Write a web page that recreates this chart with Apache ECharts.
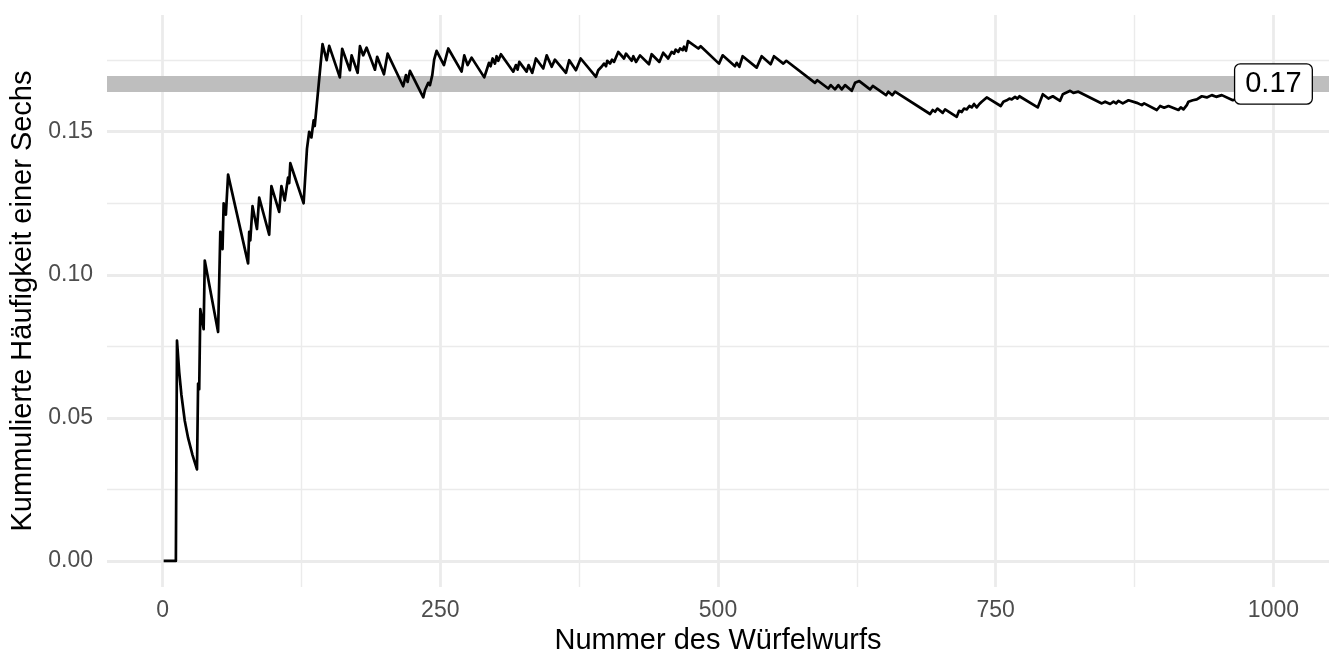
<!DOCTYPE html>
<html>
<head>
<meta charset="utf-8">
<script src="https://cdn.jsdelivr.net/npm/echarts@6/dist/echarts.min.js"></script>
<style>
  html, body { margin: 0; padding: 0; background: #fff; }
  #chart { width: 1344px; height: 672px; }
</style>
</head>
<body>
<div id="chart"></div>
<script>
// ---- data ----
const rollNumber = [
  1, 12, 13, 15, 17, 20, 23, 27, 31, 32, 33, 34, 37, 38, 50, 52, 54, 55, 57, 59,
  77, 78, 79, 81, 85, 87, 96, 98, 105, 107, 110, 113, 114, 115, 127, 130, 132, 134, 136, 137,
  144, 147.7, 150, 159.6, 161.7, 168.6, 170.2, 175.6, 177.7, 180.6, 183.7, 191.2, 193.2, 199.3, 202.6,
  216.6, 219.1, 220.6, 222.7, 234.7, 236.2, 237.7, 239.2, 240.7, 242.8, 244.5, 246.7, 253.3, 257.2,
  269.2, 271.6, 274.6, 278.2, 289.6, 291.7, 293.8, 295.3, 297.1, 299.2, 300.7, 302.2, 304.6,
  315.7, 318.1, 319.6, 321.1, 327.7, 329.5, 332.8, 336.1, 342.7, 345.8, 350.3, 353.2, 363.1, 366.1,
  372.1, 376.4, 390.1, 392.2, 393.7, 395.2, 397.4, 399.2, 400.3, 402.8, 404.6, 406.4, 410.2, 415.4,
  417.2, 422.3, 423.8, 426.2, 429.8, 437.9, 440.3, 447.2, 450.7, 455.2, 458.3, 460.4, 461.9, 464.3,
  465.8, 468.2, 469.4, 471.2, 473, 482.3, 484.4, 500.9, 504.2, 515.3, 516.8, 519.2, 522.2, 534.8,
  539.3, 547.4, 550.4, 558.8, 561.5, 587.3, 589.4, 599.3, 601.5, 605.3, 608.3, 611.4, 614.4, 620.4,
  623.4, 624.9, 627.2, 636.9, 639.3, 651.3, 653.3, 656.9, 659.4, 690.9, 693.3, 695.4, 697.5, 702.3,
  704.4, 714.9, 717, 719.4, 721.5, 723.9, 726.3, 728.4, 730.5, 732.9, 735.3, 737.4, 741.9, 754.5,
  756.9, 759.9, 762.3, 764.4, 767.4, 769.5, 771.3, 787.8, 792.4, 797.4, 801.4, 807.9, 810.4, 817,
  819.9, 824.4, 845.5, 848.5, 853, 856, 858.4, 860.4, 864.4, 869.5, 877, 881.5, 883.6, 895, 898,
  901.6, 905.5, 914.5, 916.6, 919, 922, 923.5, 927.4, 931, 935.5, 940, 944.5, 948.4, 953.5, 963.4,
  980, 1000
];
const cumulativeFrequency = [
  0, 0, 0.077, 0.066, 0.058, 0.049, 0.043, 0.037, 0.032, 0.062, 0.060, 0.088, 0.081, 0.105, 0.080, 0.115, 0.109, 0.125, 0.121, 0.135,
  0.104, 0.115, 0.112, 0.124, 0.116, 0.127, 0.114, 0.131, 0.122, 0.131, 0.126, 0.134, 0.132, 0.139, 0.125, 0.144, 0.150, 0.148, 0.154, 0.152,
  0.1806, 0.175, 0.180, 0.169, 0.179, 0.1715, 0.1767, 0.1706, 0.1799, 0.1767, 0.1794, 0.1717, 0.1762, 0.1701, 0.1773,
  0.1659, 0.1698, 0.1674, 0.1713, 0.1620, 0.1645, 0.1640, 0.1671, 0.1663, 0.1698, 0.1752, 0.1783, 0.1733, 0.1791,
  0.1710, 0.1767, 0.1733, 0.1759, 0.1690, 0.1715, 0.1741, 0.1729, 0.1756, 0.1738, 0.1764, 0.1748, 0.1771,
  0.1710, 0.1733, 0.1717, 0.1744, 0.1710, 0.1733, 0.1706, 0.1756, 0.1721, 0.1767, 0.1727, 0.1752, 0.1706, 0.1750,
  0.1715, 0.1756, 0.1692, 0.1715, 0.1721, 0.1727, 0.1738, 0.1729, 0.1748, 0.1738, 0.1752, 0.1744, 0.1779, 0.1756,
  0.1773, 0.1748, 0.1764, 0.1744, 0.1767, 0.1736, 0.1771, 0.1744, 0.1776, 0.1756, 0.1779, 0.1773, 0.1787, 0.1779,
  0.1791, 0.1785, 0.1797, 0.1783, 0.1817, 0.1791, 0.1799, 0.1738, 0.1767, 0.1729, 0.1741, 0.1727, 0.1764, 0.1724,
  0.1764, 0.1736, 0.1764, 0.1738, 0.1748, 0.1671, 0.1680, 0.1651, 0.1663, 0.1648, 0.1663, 0.1648, 0.1663, 0.1643,
  0.1671, 0.1666, 0.1677, 0.1648, 0.1660, 0.1628, 0.1640, 0.1628, 0.1640, 0.1562, 0.1576, 0.1570, 0.1581, 0.1566,
  0.1578, 0.1552, 0.1573, 0.1569, 0.1581, 0.1578, 0.1590, 0.1585, 0.1597, 0.1585, 0.1597, 0.1605, 0.1620, 0.1590,
  0.1605, 0.1610, 0.1616, 0.1613, 0.1622, 0.1616, 0.1624, 0.1585, 0.1631, 0.1616, 0.1624, 0.1608, 0.1631, 0.1643,
  0.1636, 0.1640, 0.1599, 0.1605, 0.1597, 0.1605, 0.1599, 0.1608, 0.1599, 0.1610, 0.1601, 0.1593, 0.1599, 0.1576, 0.1590,
  0.1584, 0.1590, 0.1576, 0.1585, 0.1578, 0.1593, 0.1605, 0.1610, 0.1613, 0.1624, 0.1620, 0.1628, 0.1622, 0.1628, 0.1610,
  0.1630, 0.1620
];
const referenceValue = [1 / 6];
const xTicks = [0, 250, 500, 750, 1000];
const xMinorTicks = [125, 375, 625, 875];
const yTicks = [0, 0.05, 0.10, 0.15];
const yMinorTicks = [0.025, 0.075, 0.125, 0.175];
const xTitle = 'Nummer des Würfelwurfs';
const yTitle = 'Kummulierte Häufigkeit einer Sechs';

// ---- chart ----
const FONT = '"Liberation Sans", Arial, Helvetica, sans-serif';
const chart = echarts.init(document.getElementById('chart'), null, { renderer: 'canvas' });

const lineData = rollNumber.map((x, i) => [x, cumulativeFrequency[i]]);
const GRID_COLOR = '#EBEBEB';
const gridLines = [].concat(
  xMinorTicks.map(v => ({ xAxis: v, lineStyle: { width: 1.4, color: GRID_COLOR, type: 'solid' } })),
  yMinorTicks.map(v => ({ yAxis: v, lineStyle: { width: 1.4, color: GRID_COLOR, type: 'solid' } })),
  xTicks.map(v => ({ xAxis: v, lineStyle: { width: 2.8, color: GRID_COLOR, type: 'solid' } })),
  yTicks.map(v => ({ yAxis: v, lineStyle: { width: 2.8, color: GRID_COLOR, type: 'solid' } }))
);

chart.setOption({
  animation: false,
  backgroundColor: '#ffffff',
  grid: { left: 107, right: 15, top: 15, bottom: 85, containLabel: false },
  xAxis: {
    type: 'value',
    min: -50, max: 1050,
    axisLine: { show: false },
    axisTick: { show: false, customValues: xTicks },
    splitLine: { show: false },
    axisLabel: {
      customValues: xTicks,
      margin: 12,
      color: '#4D4D4D',
      fontSize: 23,
      fontFamily: FONT,
      formatter: v => String(v)
    },
    name: xTitle,
    nameLocation: 'middle',
    nameGap: 38,
    nameTextStyle: { color: '#000', fontSize: 29, fontFamily: FONT }
  },
  yAxis: {
    type: 'value',
    min: -0.0091, max: 0.1908,
    axisLine: { show: false },
    axisTick: { show: false, customValues: yTicks },
    splitLine: { show: false },
    axisLabel: {
      customValues: yTicks,
      margin: 14,
      color: '#4D4D4D',
      fontSize: 23,
      fontFamily: FONT,
      formatter: v => v.toFixed(2)
    },
    name: yTitle,
    nameLocation: 'middle',
    nameGap: 64,
    nameTextStyle: { color: '#000', fontSize: 29, fontFamily: FONT }
  },
  series: [
    {
      name: 'grid', type: 'line', data: [], z: 1, silent: true,
      markLine: {
        silent: true, z: 1, precision: 8, symbol: ['none', 'none'],
        label: { show: false }, animation: false, data: gridLines
      }
    },
    {
      name: 'reference', type: 'line', data: [], z: 2, silent: true,
      markLine: {
        silent: true, z: 2, precision: 8, symbol: ['none', 'none'],
        label: { show: false }, animation: false,
        data: referenceValue.map(v => ({ yAxis: v, lineStyle: { width: 16, color: '#BEBEBE', type: 'solid' } }))
      }
    },
    {
      name: 'kumuliert', type: 'line', data: lineData, z: 3,
      showSymbol: false, symbol: 'none', smooth: false,
      lineStyle: { color: '#000000', width: 2.7, join: 'round' }
    },
    {
      name: 'label', type: 'scatter', z: 10, silent: true,
      data: referenceValue.map(v => [1000, v]),
      symbolSize: 1,
      itemStyle: { color: '#ffffff', opacity: 1 },
      label: {
        show: true, position: 'inside', opacity: 1,
        formatter: p => p.value[1].toFixed(2),
        color: '#000000', fontSize: 29, fontFamily: FONT, lineHeight: 29,
        backgroundColor: '#ffffff', borderColor: '#000000', borderWidth: 1.3, borderRadius: 5,
        padding: [5, 10, 5, 10]
      }
    }
  ]
});
</script>
</body>
</html>
